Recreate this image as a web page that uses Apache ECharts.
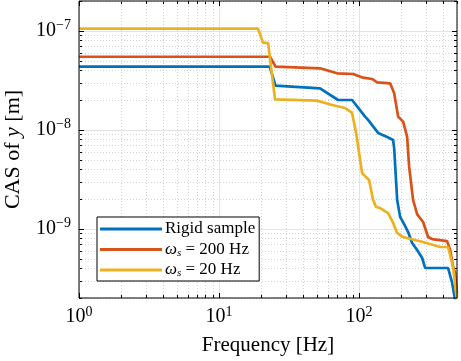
<!DOCTYPE html>
<html><head><meta charset="utf-8">
<script src="https://cdn.jsdelivr.net/npm/echarts@6/dist/echarts.min.js"></script>
<style>html,body{margin:0;padding:0;background:#fff}#c{width:461px;height:361px}</style>
</head><body><div id="c"></div>
<script>
// ---- data ----
const rigidFreq = [1, 23.0, 25.3, 52.6, 70.8, 89.1, 110.4, 115.9, 136.7, 158.5, 174.9, 178, 187, 196.3, 206, 224, 239, 259.5, 282, 296, 432, 461.6, 485];
const rigidCas  = [4.34e-8, 4.34e-8, 2.79e-8, 2.62e-8, 2.0e-8, 2.0e-8, 1.36e-8, 1.26e-8, 9.3e-9, 8.46e-9, 7.89e-9, 6.5e-9, 1.95e-9, 1.32e-9, 1.17e-9, 9.28e-10, 7.19e-10, 6.1e-10, 5.07e-10, 4.02e-10, 4.02e-10, 2.84e-10, 1.9e-10];

const s200Freq = [1, 23.1, 25.3, 52.6, 69.6, 90.6, 106.8, 123.8, 134.5, 166.5, 177.8, 189.9, 206.2, 220.2, 227.6, 243, 260, 286.4, 311, 332, 425, 446.7, 469, 485, 500];
const s200Cas  = [5.47e-8, 5.47e-8, 4.34e-8, 4.18e-8, 3.72e-8, 3.66e-8, 3.36e-8, 3.26e-8, 3.02e-8, 2.95e-8, 2.35e-8, 1.36e-8, 1.21e-8, 8.52e-9, 4.24e-9, 1.95e-9, 1.4e-9, 1.17e-9, 8.26e-10, 7.88e-10, 7.5e-10, 6.1e-10, 4.11e-10, 3.6e-10, 2.2e-10];

const s20Freq = [1, 19.0, 20.6, 22.4, 25.1, 50.1, 64.1, 79.4, 89.1, 95.2, 105, 110.4, 117.8, 125.9, 132.2, 141.3, 161, 174.9, 186.7, 206, 286, 379, 432, 469, 490, 500];
const s20Cas  = [1.05e-7, 1.05e-7, 7.6e-8, 7.5e-8, 2.03e-8, 1.97e-8, 1.78e-8, 1.66e-8, 1.48e-8, 9.29e-9, 3.66e-9, 3.4e-9, 3.11e-9, 1.95e-9, 1.66e-9, 1.62e-9, 1.44e-9, 1.15e-9, 9.08e-10, 8.26e-10, 7.36e-10, 6.55e-10, 6.55e-10, 4.11e-10, 2.4e-10, 1.9e-10];

const seriesNames = ['Rigid sample', 'ws200', 'ws20'];
const xRange = [1, 500];
const yRange = [2e-10, 2e-7];
const xMajor = [1, 10, 100];
const yMajor = [1e-9, 1e-8, 1e-7];
const xMinor = [2,3,4,5,6,7,8,9,20,30,40,50,60,70,80,90,200,300,400,500];
const yMinor = [2e-10,3e-10,4e-10,5e-10,6e-10,7e-10,8e-10,9e-10,2e-9,3e-9,4e-9,5e-9,6e-9,7e-9,8e-9,9e-9,2e-8,3e-8,4e-8,5e-8,6e-8,7e-8,8e-8,9e-8,2e-7];

// ---- chart ----
const zip = (a, b) => a.map((v, i) => [v, b[i]]);
const FONT = '"Liberation Serif", "DejaVu Serif", serif';
const SUP_MINUS = '\u2212';

function expLabel(v) {
  const e = Math.round(Math.log10(v));
  return '{b|10}{e|' + (e < 0 ? SUP_MINUS + (-e) : e) + '}';
}
const expRich = {
  b: { fontFamily: FONT, fontSize: 20, color: '#000' },
  e: { fontFamily: FONT, fontSize: 14, color: '#000', verticalAlign: 'bottom', padding: [0, 0, 10, 0] }
};

const chart = echarts.init(document.getElementById('c'));

function gridRender(params, api) {
  const children = [];
  const lo = api.coord([xRange[0], yRange[0]]);
  const hi = api.coord([xRange[1], yRange[1]]);
  const x0 = lo[0], y0 = lo[1], x1 = hi[0], y1 = hi[1];
  const minorStyle = { stroke: '#c8c8c8', lineWidth: 0.8, lineDash: [1, 2] };
  const majorStyle = { stroke: '#e3e3e3', lineWidth: 1 };
  const tick = { stroke: '#000', lineWidth: 1 };
  xMinor.forEach(f => {
    const x = Math.round(api.coord([f, yRange[0]])[0]) + 0.5;
    children.push({ type: 'line', shape: { x1: x, y1: y0, x2: x, y2: y1 }, style: minorStyle, silent: true });
    children.push({ type: 'line', shape: { x1: x, y1: y0, x2: x, y2: y0 - 3 }, style: tick, silent: true });
    children.push({ type: 'line', shape: { x1: x, y1: y1, x2: x, y2: y1 + 3 }, style: tick, silent: true });
  });
  yMinor.forEach(v => {
    const y = Math.round(api.coord([xRange[0], v])[1]) + 0.5;
    children.push({ type: 'line', shape: { x1: x0, y1: y, x2: x1, y2: y }, style: minorStyle, silent: true });
    children.push({ type: 'line', shape: { x1: x0, y1: y, x2: x0 + 3, y2: y }, style: tick, silent: true });
    children.push({ type: 'line', shape: { x1: x1, y1: y, x2: x1 - 3, y2: y }, style: tick, silent: true });
  });
  xMajor.forEach(f => {
    const x = Math.round(api.coord([f, yRange[0]])[0]) + 0.5;
    children.push({ type: 'line', shape: { x1: x, y1: y0, x2: x, y2: y1 }, style: majorStyle, silent: true });
    children.push({ type: 'line', shape: { x1: x, y1: y0, x2: x, y2: y0 - 5 }, style: tick, silent: true });
    children.push({ type: 'line', shape: { x1: x, y1: y1, x2: x, y2: y1 + 5 }, style: tick, silent: true });
  });
  yMajor.forEach(v => {
    const y = Math.round(api.coord([xRange[0], v])[1]) + 0.5;
    children.push({ type: 'line', shape: { x1: x0, y1: y, x2: x1, y2: y }, style: majorStyle, silent: true });
    children.push({ type: 'line', shape: { x1: x0, y1: y, x2: x0 + 5, y2: y }, style: tick, silent: true });
    children.push({ type: 'line', shape: { x1: x1, y1: y, x2: x1 - 5, y2: y }, style: tick, silent: true });
  });
  return { type: 'group', children };
}

const lineCommon = { type: 'line', showSymbol: false, symbol: 'none', smooth: false, animation: false, clip: true, z: 3 };

chart.setOption({
  animation: false,
  backgroundColor: '#fff',
  grid: { left: 79, right: 4, top: 1, bottom: 63, show: true, borderColor: '#000', borderWidth: 1, backgroundColor: 'transparent', z: 5,
          containLabel: false, outerBoundsMode: 'none' },
  xAxis: {
    type: 'log', logBase: 10, min: xRange[0], max: xRange[1],
    axisLine: { show: false },
    axisTick: { show: false },
    splitLine: { show: false },
    axisLabel: { formatter: expLabel, rich: expRich, margin: 7,
      showMinLabel: true, showMaxLabel: true, hideOverlap: false,
      customValues: xMajor },
    name: 'Frequency [Hz]', nameLocation: 'middle', nameGap: 37,
    nameTextStyle: { fontFamily: FONT, fontSize: 21, color: '#000' }
  },
  yAxis: {
    type: 'log', logBase: 10, min: yRange[0], max: yRange[1],
    axisLine: { show: false },
    axisTick: { show: false },
    splitLine: { show: false },
    axisLabel: { formatter: expLabel, rich: expRich, margin: 8, customValues: yMajor },
    name: '{n|CAS of }{i|y}{n| [m]}', nameLocation: 'middle', nameGap: 55,
    nameTextStyle: { rich: {
      n: { fontFamily: FONT, fontSize: 22, color: '#000' },
      i: { fontFamily: FONT, fontSize: 22, color: '#000', fontStyle: 'italic' }
    } }
  },
  legend: {
    orient: 'vertical', left: 97, top: 217,
    backgroundColor: '#fff', borderColor: '#000', borderWidth: 1,
    padding: [3, 4, 2, 3], itemGap: 2.5,
    itemWidth: 62, itemHeight: 3, icon: 'rect',
    data: seriesNames,
    formatter: function (name) {
      if (name === 'ws200') return '{i|ω}{s|s}{n| = 200 Hz}';
      if (name === 'ws20') return '{i|ω}{s|s}{n| = 20 Hz}';
      return '{n|Rigid sample}';
    },
    textStyle: { color: '#000', lineHeight: 18, padding: [0, 0, 0, -2], rich: {
      n: { fontFamily: FONT, fontSize: 17, color: '#000', lineHeight: 18 },
      i: { fontFamily: FONT, fontSize: 17, color: '#000', fontStyle: 'italic', lineHeight: 18 },
      s: { fontFamily: FONT, fontSize: 11, color: '#000', fontStyle: 'italic', verticalAlign: 'bottom', lineHeight: 14 }
    } }
  },
  series: [
    { type: 'custom', renderItem: gridRender, data: [[xRange[0], yRange[0]]], z: 1, silent: true, clip: false, animation: false, legendHoverLink: false },
    Object.assign({}, lineCommon, { name: seriesNames[0], data: zip(rigidFreq, rigidCas), color: '#0072BD', lineStyle: { width: 2.7, color: '#0072BD' } }),
    Object.assign({}, lineCommon, { name: seriesNames[1], data: zip(s200Freq, s200Cas), color: '#D95319', lineStyle: { width: 2.7, color: '#D95319' } }),
    Object.assign({}, lineCommon, { name: seriesNames[2], data: zip(s20Freq, s20Cas), color: '#EDB120', lineStyle: { width: 2.7, color: '#EDB120' } })
  ]
});
</script>
</body></html>
